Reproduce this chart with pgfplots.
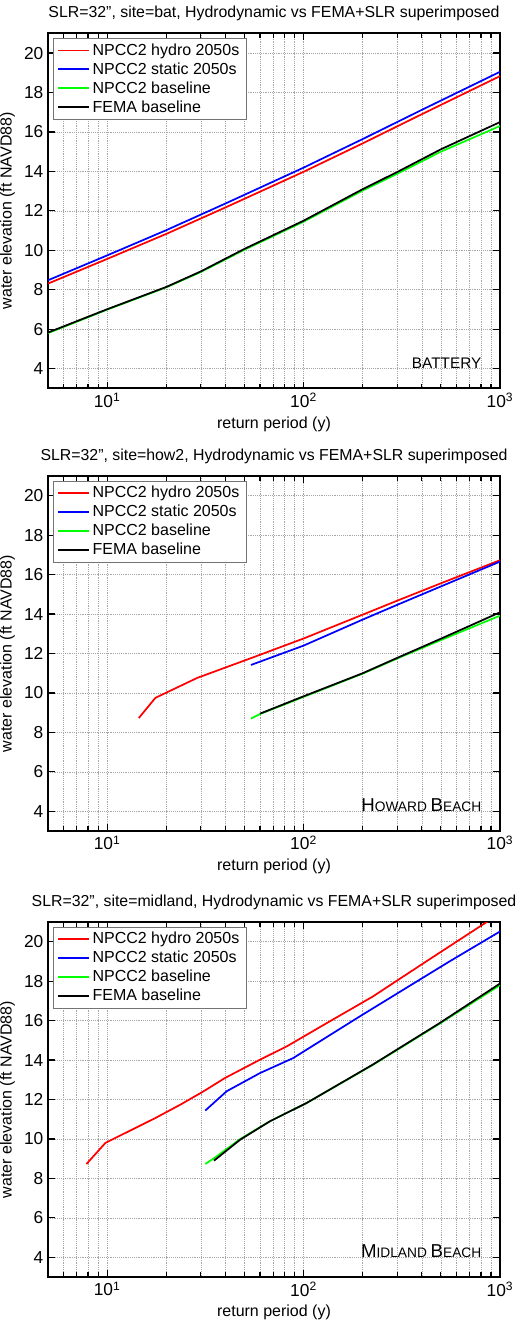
\documentclass[border=0pt]{standalone}
\usepackage{fontspec}
\setmainfont{Liberation Sans}
\usepackage{pgfplots}
\pgfplotsset{compat=1.18}

\newcommand{\fakesc}[2]{{\fontsize{14}{16}\selectfont #1}{\fontsize{10.3}{12}\selectfont #2}}

\pgfplotsset{
  legend image code/.code={\draw[#1, line width=1.4pt] (0pt,0pt) -- (23pt,0pt);},
  every axis/.append style={
    scale only axis, width=339pt, height=266.25pt,
    xmin=5, xmax=1000, ymin=3, ymax=21,
    xtick={10,100,1000},
    xticklabels={10\textsuperscript{1},10\textsuperscript{2},10\textsuperscript{3}},
    minor xtick={6,7,8,9,20,30,40,50,60,70,80,90,200,300,400,500,600,700,800,900},
    ytick={4,6,...,20},
    xmajorgrids, xminorgrids, ymajorgrids,
    major grid style={densely dotted, black!35, line width=0.5pt},
    minor grid style={densely dotted, black!35, line width=0.5pt},
    tick style={black, line width=0.9pt},
    major tick length=5pt, minor tick length=3.5pt,
    axis line style={line width=1.3pt},
    tick label style={font=\fontsize{13}{15}\selectfont},
    label style={font=\fontsize{12}{14}\selectfont},
    title style={font=\fontsize{11.9}{14}\selectfont},
    xlabel={return period (y)},
    ylabel={water elevation (ft NAVD88)},
    legend cell align=left,
    legend style={at={(0.011,0.987)}, anchor=north west,
      draw=black!55, line width=0.6pt, fill=white,
      font=\fontsize{12}{14}\selectfont},
  },
  every axis plot/.append style={line width=1.3pt},
}

\begin{document}
\begin{tikzpicture}
\path[use as bounding box] (-36pt,25pt) rectangle (356.25pt,-966.5pt);

% Battery
\begin{semilogxaxis}[anchor=north west, at={(0pt,0pt)},
  /pgf/number format/assume math mode=true,
  title={SLR=32'', site=bat, Hydrodynamic vs FEMA+SLR superimposed}]
\addplot[red] coordinates {
  (5,8.31) (10,9.56) (20,10.83) (40,12.17) (100,13.98) (200,15.42) (400,16.9) (1000,18.83)};
\addlegendentry{NPCC2 hydro 2050s}
\addplot[blue] coordinates {
  (5,8.48) (10,9.74) (20,11.02) (40,12.37) (100,14.19) (200,15.64) (400,17.12) (1000,19.05)};
\addlegendentry{NPCC2 static 2050s}
\addplot[green] coordinates {
  (5,5.8) (10,6.99) (20,8.12) (30,8.9) (50,10.03) (100,11.45) (200,13.03) (300,13.88) (500,15.0) (1000,16.3)};
\addlegendentry{NPCC2 baseline}
\addplot[black] coordinates {
  (5,5.83) (10,7.01) (20,8.14) (30,8.93) (50,10.07) (100,11.5) (200,13.1) (300,13.97) (500,15.12) (1000,16.5)};
\addlegendentry{FEMA baseline}
\node[anchor=base east, font=\fontsize{11.5}{13}\selectfont] at (rel axis cs:0.969,0.0556) {BATTERY};
\end{semilogxaxis}

% Howard Beach
\begin{semilogxaxis}[anchor=north west, at={(0pt,-332pt)},
  /pgf/number format/assume math mode=true,
  title={SLR=32'', site=how2, Hydrodynamic vs FEMA+SLR superimposed}]
\addplot[red] coordinates {
  (14.5,8.73) (17.6,9.75) (28.7,10.76) (54.5,11.78) (100,12.76) (200,13.97) (300,14.68) (500,15.56) (1000,16.73)};
\addlegendentry{NPCC2 hydro 2050s}
\addplot[blue] coordinates {
  (54,11.42) (100,12.4) (200,13.72) (300,14.47) (500,15.4) (1000,16.66)};
\addlegendentry{NPCC2 static 2050s}
\addplot[green] coordinates {
  (54,8.70) (60,8.93) (100,9.8) (200,10.98) (300,11.75) (500,12.68) (1000,13.92)};
\addlegendentry{NPCC2 baseline}
\addplot[black] coordinates {
  (60,8.95) (100,9.83) (200,11.0) (300,11.78) (500,12.75) (1000,14.09)};
\addlegendentry{FEMA baseline}
\node[anchor=base east] at (rel axis cs:0.969,0.0556) {\fakesc{H}{OWARD} \fakesc{B}{EACH}};
\end{semilogxaxis}

% Midland Beach
\begin{semilogxaxis}[anchor=north west, at={(0pt,-666.5pt)},
  /pgf/number format/assume math mode=true,
  title={SLR=32'', site=midland, Hydrodynamic vs FEMA+SLR superimposed}]
\addplot[red] coordinates {
  (7.85,8.73) (9.8,9.8) (17.6,11.06) (23.6,11.74) (30.9,12.41) (39.8,13.09) (60,14.02) (82,14.69) (131,15.87) (225,17.22) (421,19.0) (832,20.92) (1000,21.44)};
\addlegendentry{NPCC2 hydro 2050s}
\addplot[blue] coordinates {
  (31.6,11.44) (40.6,12.42) (60,13.34) (88.5,14.1) (193,16.21) (553,19.0) (1000,20.52)};
\addlegendentry{NPCC2 static 2050s}
\addplot[green] coordinates {
  (31.6,8.73) (35,9.02) (47.5,9.99) (67.5,10.9) (103.5,11.82) (225,13.75) (492,15.84) (1000,17.8)};
\addlegendentry{NPCC2 baseline}
\addplot[black] coordinates {
  (35,8.9) (47.5,9.96) (67.5,10.9) (103.5,11.82) (225,13.77) (492,15.87) (1000,17.88)};
\addlegendentry{FEMA baseline}
\node[anchor=base east] at (rel axis cs:0.969,0.0556) {\fakesc{M}{IDLAND} \fakesc{B}{EACH}};
\end{semilogxaxis}
\end{tikzpicture}
\end{document}
